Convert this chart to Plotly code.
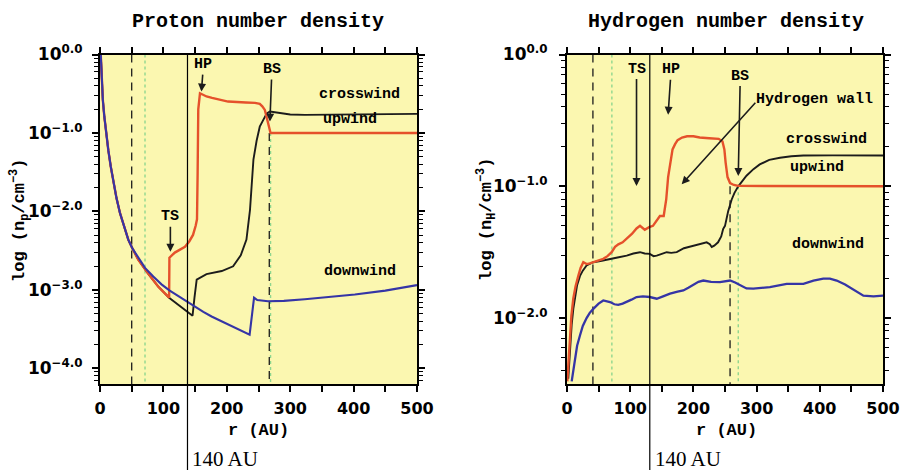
import numpy as np
import plotly.graph_objects as go

# ---------------- Left panel: proton number density, log10(n_p / cm^-3) ----------------
p_down_r = [1.2, 2.7, 4.5, 6.8, 9.5, 13.1, 17, 21, 26, 31.5, 38, 44.6, 51, 60, 71, 84, 97,
            110, 123.5, 137, 150, 163, 176, 189, 202, 218, 236, 243, 248, 265, 290, 323,
            360, 402, 450, 500]
p_down = [0.0, -0.36, -0.58, -0.79, -1.0, -1.22, -1.43, -1.63, -1.83, -2.02, -2.2, -2.36,
          -2.47, -2.59, -2.72, -2.83, -2.93, -3.01, -3.08, -3.15, -3.21, -3.28, -3.34, -3.39,
          -3.44, -3.51, -3.57, -3.10, -3.13, -3.145, -3.14, -3.12, -3.09, -3.06, -3.01, -2.94]

p_cross_r = [1.2, 2.7, 4.5, 6.8, 9.5, 13.1, 17, 21, 26, 31.5, 38, 44.6, 51, 60, 75.7, 92,
             109, 120, 129, 137, 146, 149, 152.5, 168, 192, 210, 222, 231, 236.6, 242, 247,
             252, 258, 263, 268, 280, 300, 323, 400, 500]
p_cross = [0.0, -0.36, -0.58, -0.79, -1.0, -1.22, -1.43, -1.63, -1.83, -2.02, -2.2, -2.36,
           -2.47, -2.61, -2.79, -2.96, -3.10, -3.17, -3.225, -3.27, -3.33, -3.1, -2.87, -2.80,
           -2.76, -2.70, -2.56, -2.36, -1.98, -1.34, -1.1, -0.92, -0.83, -0.75, -0.728,
           -0.74, -0.765, -0.77, -0.765, -0.757]

p_up_r = [1.2, 2.7, 4.5, 6.8, 9.5, 13.1, 17, 21, 26, 31.5, 38, 44.6, 51, 60, 75.7, 92, 109,
          109.5, 118, 126, 134, 141, 146.7, 151, 153, 154, 155, 157.7, 168, 176.7, 202, 230,
          244.5, 252, 256, 260, 263, 265, 269, 500]
p_up = [0.0, -0.36, -0.58, -0.79, -1.0, -1.22, -1.43, -1.63, -1.83, -2.02, -2.2, -2.36,
        -2.47, -2.61, -2.79, -2.96, -3.10, -2.59, -2.525, -2.49, -2.45, -2.38, -2.30, -2.18,
        -2.10, -1.5, -0.7, -0.494, -0.535, -0.553, -0.60, -0.612, -0.617, -0.63, -0.66,
        -0.706, -0.8, -0.875, -1.0, -1.0]

# ---------------- Right panel: hydrogen number density, log10(n_H / cm^-3) ----------------
h_up_r = [0.5, 2.5, 4.7, 7, 10, 13.5, 17.9, 21.5, 25.8, 31.2, 36, 41.6, 50, 57.4, 64, 70.7,
          76, 81.2, 88, 94.5, 103, 110, 115.5, 123, 130, 136, 142, 147, 153, 157, 160, 163,
          167, 171, 175, 182, 190, 200, 210, 225, 240, 246, 249, 251, 254, 258, 264, 271, 500]
h_up = [-2.48, -2.3, -2.13, -1.98, -1.85, -1.76, -1.68, -1.62, -1.576, -1.59, -1.585, -1.576,
        -1.565, -1.55, -1.53, -1.50, -1.46, -1.44, -1.425, -1.40, -1.36, -1.32, -1.30, -1.33,
        -1.31, -1.30, -1.26, -1.225, -1.225, -1.10, -0.93, -0.85, -0.72, -0.68, -0.65, -0.63,
        -0.62, -0.62, -0.63, -0.635, -0.64, -0.66, -0.72, -0.82, -0.93, -0.975, -0.99,
        -0.997, -1.0]

h_cross_r = [2, 4.5, 7.4, 10, 12.7, 16, 20.6, 25, 31, 41.6, 55, 68, 80, 94.5, 105, 115.5, 123,
             131, 137, 142, 150, 157.7, 165, 173.6, 185, 200, 210, 221, 226, 229, 233, 239,
             244, 247, 250, 255, 260.6, 265, 271, 278, 284, 295, 305, 320, 337, 355, 374, 420,
             500]
h_cross = [-2.46, -2.25, -2.05, -1.93, -1.83, -1.75, -1.68, -1.64, -1.60, -1.576, -1.565,
           -1.55, -1.54, -1.526, -1.51, -1.50, -1.51, -1.513, -1.53, -1.526, -1.51, -1.50,
           -1.505, -1.50, -1.47, -1.45, -1.44, -1.425, -1.44, -1.46, -1.45, -1.425, -1.38,
           -1.325, -1.30, -1.19, -1.10, -1.05, -1.0, -0.96, -0.92, -0.87, -0.834, -0.80,
           -0.783, -0.772, -0.766, -0.765, -0.766]

h_down_r = [7.4, 10, 12.7, 16, 20.6, 25, 31, 36, 41.6, 50, 57.4, 63, 68, 75, 81, 88, 94.5,
            102, 110, 120, 131, 142, 152, 163, 175, 184, 192, 200, 208, 215.7, 228, 242, 250,
            258, 266, 273.7, 284, 294.8, 321, 347.6, 374, 390, 405.5, 416, 426.7, 440, 453,
            462, 469, 485, 500]
h_down = [-2.48, -2.39, -2.31, -2.21, -2.13, -2.06, -2.00, -1.96, -1.93, -1.89, -1.866,
          -1.87, -1.878, -1.895, -1.90, -1.89, -1.878, -1.86, -1.84, -1.835, -1.84, -1.853,
          -1.835, -1.815, -1.80, -1.79, -1.77, -1.75, -1.725, -1.715, -1.725, -1.727, -1.72,
          -1.715, -1.73, -1.75, -1.775, -1.777, -1.765, -1.74, -1.74, -1.715, -1.70, -1.70,
          -1.715, -1.745, -1.785, -1.815, -1.83, -1.835, -1.83]

# boundary radii (AU) shown as vertical lines
left_dashed_r = [50, 267]
left_green_r = [71, 269]
right_dashed_r = [41, 258]
right_green_r = [71, 271]
marker_140_r = [138, 131]

x_ticks = list(range(0, 501, 50))
x_ticktext = [str(v) if v % 100 == 0 else "" for v in x_ticks]
left_yticks = [0, -1, -2, -3, -4]
right_yticks = [0, -1, -2]

RED = "#E5512B"
BLACK = "#1c1c1c"
BLUE = "#3535A6"
GREEN = "#8fd68f"
BG = "#FBF7B0"
MONO = "Liberation Mono, Courier New, monospace"
SANS = "DejaVu Sans, Arial, sans-serif"


def ytext(v):
    return "10<sup>" + ("\u2212" if v < 0 else "") + f"{abs(v):.1f}" + "</sup>"


def minor_vals(lo, hi):
    out = []
    for n in range(int(np.floor(lo)) - 1, int(np.ceil(hi)) + 1):
        for k in range(2, 10):
            v = n + np.log10(k)
            if lo <= v <= hi:
                out.append(v)
    return out


fig = go.Figure()


def add_vlines(xs, xaxis, yaxis, ylo, color, dash, width, bs_top):
    for i, r in enumerate(xs):
        top = 0 if i == 0 else bs_top
        fig.add_trace(go.Scatter(x=[r, r], y=[top, ylo], mode="lines", xaxis=xaxis, yaxis=yaxis,
                                 line=dict(color=color, dash=dash, width=width),
                                 showlegend=False, hoverinfo="skip"))


add_vlines(left_green_r, "x", "y", -4.2, GREEN, "3px,3px", 1.4, -1.0)
add_vlines(left_dashed_r, "x", "y", -4.2, BLACK, "8px,6px", 1.3, -1.0)
add_vlines(right_green_r, "x2", "y2", -2.5, GREEN, "3px,3px", 1.4, -1.0)
add_vlines(right_dashed_r, "x2", "y2", -2.5, BLACK, "8px,6px", 1.3, -1.0)

for xs, ys, col, xa, ya, w in [
    (p_cross_r, p_cross, BLACK, "x", "y", 1.9),
    (p_up_r, p_up, RED, "x", "y", 2.4),
    (p_down_r, p_down, BLUE, "x", "y", 2.1),
    (h_cross_r, h_cross, BLACK, "x2", "y2", 1.9),
    (h_up_r, h_up, RED, "x2", "y2", 2.4),
    (h_down_r, h_down, BLUE, "x2", "y2", 2.3),
]:
    fig.add_trace(go.Scatter(x=xs, y=ys, mode="lines", xaxis=xa, yaxis=ya,
                             line=dict(color=col, width=w), showlegend=False))

ax_common = dict(showline=True, linecolor="black", linewidth=2, mirror="ticks",
                 ticks="outside", ticklen=6, tickwidth=1.5, tickcolor="black",
                 showgrid=False, zeroline=False, automargin=False)
xfont = dict(family=SANS, size=16, color="black", weight="bold")
yfont = dict(family=SANS, size=17, color="black", weight="bold")

fig.update_layout(
    template="none",
    width=912, height=470, autosize=False, margin=dict(l=0, r=0, t=0, b=0, pad=0),
    paper_bgcolor="white", plot_bgcolor=BG, showlegend=False,
    xaxis=dict(domain=[100 / 912, 417 / 912], range=[0, 500], anchor="y",
               tickvals=x_ticks, ticktext=x_ticktext, tickfont=xfont,
               ticklabelstandoff=3, **ax_common),
    yaxis=dict(domain=[1 - 384 / 470, 1 - 54.5 / 470], range=[-4.2, 0], anchor="x",
               tickvals=left_yticks, ticktext=[ytext(v) for v in left_yticks],
               tickfont=yfont, ticklabelstandoff=6,
               minor=dict(tickvals=minor_vals(-4.2, 0), ticks="outside", ticklen=4,
                          tickwidth=1, tickcolor="black"),
               **ax_common),
    xaxis2=dict(domain=[567 / 912, 883 / 912], range=[0, 500], anchor="y2",
                tickvals=x_ticks, ticktext=x_ticktext, tickfont=xfont,
                ticklabelstandoff=3, **ax_common),
    yaxis2=dict(domain=[1 - 384 / 470, 1 - 54.5 / 470], range=[-2.5, 0], anchor="x2",
                tickvals=right_yticks, ticktext=[ytext(v) for v in right_yticks],
                tickfont=yfont, ticklabelstandoff=8,
                minor=dict(tickvals=minor_vals(-2.5, 0), ticks="outside", ticklen=4,
                           tickwidth=1, tickcolor="black"),
                **ax_common),
)

# 140 AU markers
for r, xr in zip(marker_140_r, ["x", "x2"]):
    fig.add_shape(type="line", xref=xr, yref="paper", x0=r, x1=r, y0=0, y1=1 - 53 / 470,
                  line=dict(color="black", width=1.2), layer="above")
    fig.add_annotation(xref=xr, yref="paper", x=r, y=1 - 459 / 470,
                       text="140 AU", showarrow=False, xanchor="left", yanchor="middle", xshift=3,
                       font=dict(family="Liberation Serif, Times New Roman, serif", size=21,
                                 color="black"))

lab_font = dict(family=MONO, size=15, color="black", weight="bold")
ttl_font = dict(family=MONO, size=20, color="black", weight="bold")
axt_font = dict(family=MONO, size=17, color="black", weight="bold")


def paper_text(xc, yc, text, font, angle=0):
    fig.add_annotation(xref="paper", yref="paper", x=xc / 912, y=1 - yc / 470, text=text,
                       showarrow=False, xanchor="center", yanchor="middle", textangle=angle,
                       font=font)


paper_text(258, 22, "Proton number density", ttl_font)
paper_text(726, 22, "Hydrogen number density", ttl_font)
paper_text(258, 430, "r (AU)", axt_font)
paper_text(726, 430, "r (AU)", axt_font)
paper_text(19, 221, "log (n<sub>p</sub>/cm<sup>\u22123</sup>)", axt_font, -90)
paper_text(486, 220, "log (n<sub>H</sub>/cm<sup>\u22123</sup>)", axt_font, -90)

# curve labels
for xr, yr, x, y, t in [
    ("x", "y", 409, -0.515, "crosswind"), ("x", "y", 394, -0.833, "upwind"),
    ("x", "y", 410, -2.763, "downwind"),
    ("x2", "y2", 411, -0.645, "crosswind"), ("x2", "y2", 395, -0.857, "upwind"),
    ("x2", "y2", 413, -1.438, "downwind"), ("x2", "y2", 391, -0.343, "Hydrogen wall"),
]:
    fig.add_annotation(xref=xr, yref=yr, x=x, y=y, text=t, showarrow=False,
                       xanchor="center", yanchor="middle", font=lab_font)

# boundary arrows
for xr, yr, x, y, ax, ay, t in [
    ("x", "y", 111, -2.513, 0, -35, "TS"), ("x", "y", 160, -0.473, 2, -27, "HP"),
    ("x", "y", 268, -0.855, 2, -52, "BS"),
    ("x2", "y2", 110, -0.998, 0, -117, "TS"), ("x2", "y2", 160, -0.457, 3, -45, "HP"),
    ("x2", "y2", 271, -0.922, 2, -100, "BS"),
]:
    fig.add_annotation(xref=xr, yref=yr, x=x, y=y, ax=ax, ay=ay, text=t, showarrow=True,
                       arrowhead=2, arrowsize=1, arrowwidth=1.6, arrowcolor=BLACK,
                       standoff=0, startstandoff=0, font=lab_font)
# hydrogen wall pointer
fig.add_annotation(xref="x2", yref="y2", x=181.5, y=-0.985, ax=75, ay=-83, text="",
                   showarrow=True, arrowhead=2, arrowsize=1, arrowwidth=1.6, arrowcolor=BLACK)

fig.write_html("out.html")
